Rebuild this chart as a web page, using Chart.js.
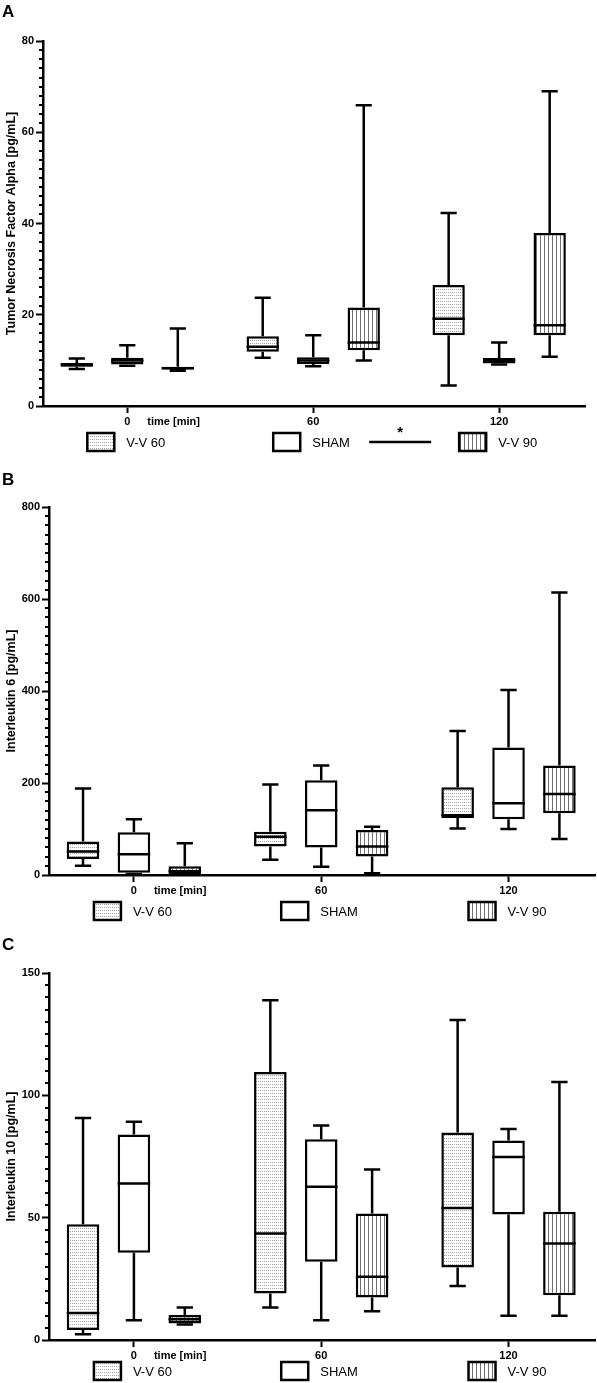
<!DOCTYPE html>
<html>
<head>
<meta charset="utf-8">
<script src="https://cdn.jsdelivr.net/npm/chart.js@4.4.0/dist/chart.umd.min.js"></script>
<style>
  html, body { margin: 0; padding: 0; background: #fff; }
  body { width: 597px; height: 1383px; position: relative; overflow: hidden; font-family: "Liberation Sans", Arial, sans-serif; }
  .panel { position: absolute; left: 0; width: 597px; }
  .panel canvas { display: block; }
  .letter { position: absolute; left: 2px; font-weight: bold; font-size: 17px; line-height: 17px; color: #000; }
</style>
</head>
<body>
<div class="panel" style="top:0px"><canvas id="chart-tnf" width="597" height="465"></canvas></div>
<div class="panel" style="top:465px"><canvas id="chart-il6" width="597" height="465"></canvas></div>
<div class="panel" style="top:930px"><canvas id="chart-il10" width="597" height="453"></canvas></div>
<div class="letter" style="top:3px">A</div>
<div class="letter" style="top:471px">B</div>
<div class="letter" style="top:936px">C</div>

<script>
// --- DATA ---
const timePoints = [0, 60, 120];
const groups = ['V-V 60', 'SHAM', 'V-V 90'];

// TNF alpha [pg/mL], one row per group, one value per time point
const tnfMin    = [[8.1, 10.6, 4.5],  [8.8, 8.7, 9.1],    [7.7, 10.0, 10.8]];
const tnfQ1     = [[8.6, 11.9, 15.5], [9.1, 9.2, 9.3],    [8.0, 12.2, 15.5]];
const tnfMedian = [[9.0, 13.0, 19.1], [10.0, 10.0, 10.0], [8.3, 13.9, 17.7]];
const tnfQ3     = [[9.4, 15.3, 26.5], [10.6, 10.7, 10.5], [8.6, 21.6, 37.9]];
const tnfMax    = [[10.4, 23.7, 42.3],[13.3, 15.5, 13.9], [17.0, 65.9, 69.0]];

// Interleukin 6 [pg/mL]
const il6Min    = [[20, 33, 101],  [2, 18, 100],   [1, 4, 78]];
const il6Q1     = [[35, 62, 124],  [5, 60, 121],   [2, 40, 134]];
const il6Median = [[51, 83, 130],  [45, 141, 156], [8, 62, 176]];
const il6Q3     = [[73, 94, 191],  [93, 206, 277], [19, 98, 238]];
const il6Max    = [[188, 197, 313],[121, 238, 402],[69, 105, 614]];

// Interleukin 10 [pg/mL]
const il10Min    = [[2.4, 13.3, 22.1],   [8.1, 8.1, 9.9],    [6.3, 11.7, 9.9]];
const il10Q1     = [[4.1, 19.0, 29.6],   [35.7, 32.0, 51.3], [6.7, 17.4, 18.3]];
const il10Median = [[11.0, 43.5, 54.0],  [64.0, 62.6, 74.8], [8.5, 25.9, 39.4]];
const il10Q3     = [[47.3, 109.5, 84.8], [84.0, 82.1, 81.5], [10.2, 51.7, 52.4]];
const il10Max    = [[90.7, 138.9, 130.8],[89.2, 87.7, 86.2], [13.3, 69.7, 105.4]];

// y axis tick labels
const tnfTicks = [0, 20, 40, 60, 80];
const il6Ticks = [0, 200, 400, 600, 800];
const il10Ticks = [0, 50, 100, 150];

// --- PATTERNS ---
function makeDots() {
    const c = document.createElement('canvas');
    c.width = 2; c.height = 3;
    const g = c.getContext('2d');
    g.fillStyle = '#fff';
    g.fillRect(0, 0, 2, 3);
    g.fillStyle = '#a4a4a4';
    g.fillRect(0, 1, 1, 1);
    return g.createPattern(c, 'repeat');
}
function makeStripes() {
    const c = document.createElement('canvas');
    c.width = 4; c.height = 1;
    const g = c.getContext('2d');
    g.fillStyle = '#fff';
    g.fillRect(0, 0, 4, 1);
    g.fillStyle = '#707070';
    g.fillRect(0, 0, 1, 1);
    return g.createPattern(c, 'repeat');
}
const fills = [makeDots(), '#ffffff', makeStripes()];
const LINE = 2.5;

// --- PLUGIN: whiskers, medians, minor ticks, legend ---
const boxPlotExtras = {
    id: 'boxPlotExtras',
    afterDatasetsDraw(chart) {
        const ctx = chart.ctx;
        const y = chart.scales.y;
        ctx.save();
        ctx.strokeStyle = '#000';
        ctx.lineWidth = LINE;
        chart.data.datasets.forEach((ds, di) => {
            const meta = chart.getDatasetMeta(di);
            meta.data.forEach((bar, i) => {
                const x = bar.x;
                const half = bar.width / 2;
                const cap = half / 2;
                const pMin = y.getPixelForValue(ds.stats.min[i]);
                const pQ1 = y.getPixelForValue(ds.stats.q1[i]);
                const pMed = y.getPixelForValue(ds.stats.median[i]);
                const pQ3 = y.getPixelForValue(ds.stats.q3[i]);
                const pMax = y.getPixelForValue(ds.stats.max[i]);
                ctx.beginPath();
                // upper whisker
                ctx.moveTo(x, pQ3); ctx.lineTo(x, pMax);
                ctx.moveTo(x - cap, pMax); ctx.lineTo(x + cap, pMax);
                // lower whisker
                ctx.moveTo(x, pQ1); ctx.lineTo(x, pMin);
                ctx.moveTo(x - cap, pMin); ctx.lineTo(x + cap, pMin);
                // median
                ctx.moveTo(x - half, pMed); ctx.lineTo(x + half, pMed);
                ctx.stroke();
            });
        });
        ctx.restore();
    },
    afterDraw(chart, args, opts) {
        const ctx = chart.ctx;
        const x = chart.scales.x;
        const y = chart.scales.y;
        const area = chart.chartArea;
        ctx.save();
        ctx.strokeStyle = '#000';
        ctx.fillStyle = '#000';

        // minor ticks on the y axis
        ctx.lineWidth = 2;
        ctx.beginPath();
        for (let v = y.min; v <= y.max + 1e-9; v += opts.minorStep) {
            if (Math.abs(v / opts.majorStep - Math.round(v / opts.majorStep)) < 1e-6) continue;
            const py = Math.round(y.getPixelForValue(v));
            ctx.moveTo(area.left - 4, py);
            ctx.lineTo(area.left, py);
        }
        ctx.stroke();

        // "time [min]" next to the first x label
        const x0 = x.getPixelForValue(timePoints[0]);
        ctx.font = 'bold 11px "Liberation Sans", Arial, sans-serif';
        ctx.textBaseline = 'middle';
        ctx.textAlign = 'left';
        ctx.fillText('time [min]', x0 + 20, area.bottom + 16);

        // legend, one item under each time point
        const ly = area.bottom + opts.legendOffset;
        ctx.font = '13px "Liberation Sans", Arial, sans-serif';
        groups.forEach((name, i) => {
            const px = x.getPixelForValue(timePoints[i]);
            ctx.fillStyle = fills[i];
            ctx.fillRect(px - 40, ly - 9, 27, 18);
            ctx.lineWidth = LINE;
            ctx.strokeRect(px - 40, ly - 9, 27, 18);
            ctx.fillStyle = '#000';
            ctx.fillText(name, px - 1, ly + 1);
        });

        // significance bar between SHAM and V-V 90
        if (opts.significance) {
            const mid = (x.getPixelForValue(timePoints[1]) + x.getPixelForValue(timePoints[2])) / 2 - 6;
            ctx.lineWidth = LINE;
            ctx.beginPath();
            ctx.moveTo(mid - 31, ly);
            ctx.lineTo(mid + 31, ly);
            ctx.stroke();
            ctx.font = 'bold 15px "Liberation Sans", Arial, sans-serif';
            ctx.textAlign = 'center';
            ctx.fillText('*', mid, ly - 9);
        }
        ctx.restore();
    }
};

// --- CHART BUILDER ---
function buildDatasets(mins, q1s, medians, q3s, maxs) {
    return groups.map((name, g) => ({
        label: name,
        data: timePoints.map((t, i) => ({ x: t, y: [q1s[g][i], q3s[g][i]] })),
        stats: { min: mins[g], q1: q1s[g], median: medians[g], q3: q3s[g], max: maxs[g] },
        backgroundColor: fills[g],
        borderColor: '#000',
        borderWidth: LINE,
        borderSkipped: false,
        categoryPercentage: 0.815,
        barPercentage: 0.64
    }));
}

function buildChart(canvasId, panel) {
    const canvas = document.getElementById(canvasId);
    const h = canvas.height;
    const tickFont = { family: '"Liberation Sans", Arial, sans-serif', size: 11, weight: 'bold' };
    return new Chart(canvas, {
        type: 'bar',
        data: { datasets: panel.datasets },
        plugins: [boxPlotExtras],
        options: {
            responsive: false,
            animation: false,
            layout: { padding: { top: panel.area.top, right: 597 - panel.area.right, left: 0, bottom: 0 } },
            plugins: {
                legend: { display: false },
                tooltip: { enabled: false },
                boxPlotExtras: {
                    majorStep: panel.yTicks[1] - panel.yTicks[0],
                    minorStep: (panel.yTicks[1] - panel.yTicks[0]) / 10,
                    legendOffset: panel.legendOffset,
                    significance: panel.significance
                }
            },
            scales: {
                x: {
                    type: 'linear',
                    offset: false,
                    min: -27.2,
                    max: 147.7,
                    afterBuildTicks: s => { s.ticks = timePoints.map(v => ({ value: v })); },
                    afterFit: s => { s.height = h - panel.area.bottom; },
                    grid: { offset: false, drawOnChartArea: false, tickLength: 7, tickWidth: 2, tickColor: '#000' },
                    border: { display: true, width: LINE, color: '#000' },
                    ticks: { font: tickFont, color: '#000', padding: 2, maxRotation: 0 }
                },
                y: {
                    min: panel.yTicks[0],
                    max: panel.yTicks[panel.yTicks.length - 1],
                    afterBuildTicks: s => { s.ticks = panel.yTicks.map(v => ({ value: v })); },
                    afterFit: s => { s.width = panel.area.left; },
                    grid: { drawOnChartArea: false, tickLength: 7, tickWidth: 2, tickColor: '#000' },
                    border: { display: true, width: LINE, color: '#000' },
                    ticks: { font: tickFont, color: '#000', padding: 2 },
                    title: {
                        display: true,
                        text: panel.title,
                        color: '#000',
                        font: { family: '"Liberation Sans", Arial, sans-serif', size: 12.5, weight: 'bold' },
                        padding: { top: 4, bottom: 0 }
                    }
                }
            }
        }
    });
}

// --- START ---
window.addEventListener('load', function() {
    buildChart('chart-tnf', {
        datasets: buildDatasets(tnfMin, tnfQ1, tnfMedian, tnfQ3, tnfMax),
        yTicks: tnfTicks,
        title: 'Tumor Necrosis Factor Alpha [pg/mL]',
        area: { left: 43, right: 585, top: 41, bottom: 406 },
        legendOffset: 36,
        significance: true
    });
    buildChart('chart-il6', {
        datasets: buildDatasets(il6Min, il6Q1, il6Median, il6Q3, il6Max),
        yTicks: il6Ticks,
        title: 'Interleukin 6 [pg/mL]',
        area: { left: 49, right: 595, top: 42, bottom: 410 },
        legendOffset: 36,
        significance: false
    });
    buildChart('chart-il10', {
        datasets: buildDatasets(il10Min, il10Q1, il10Median, il10Q3, il10Max),
        yTicks: il10Ticks,
        title: 'Interleukin 10 [pg/mL]',
        area: { left: 49, right: 595, top: 43, bottom: 410 },
        legendOffset: 31,
        significance: false
    });
});
</script>
</body>
</html>
